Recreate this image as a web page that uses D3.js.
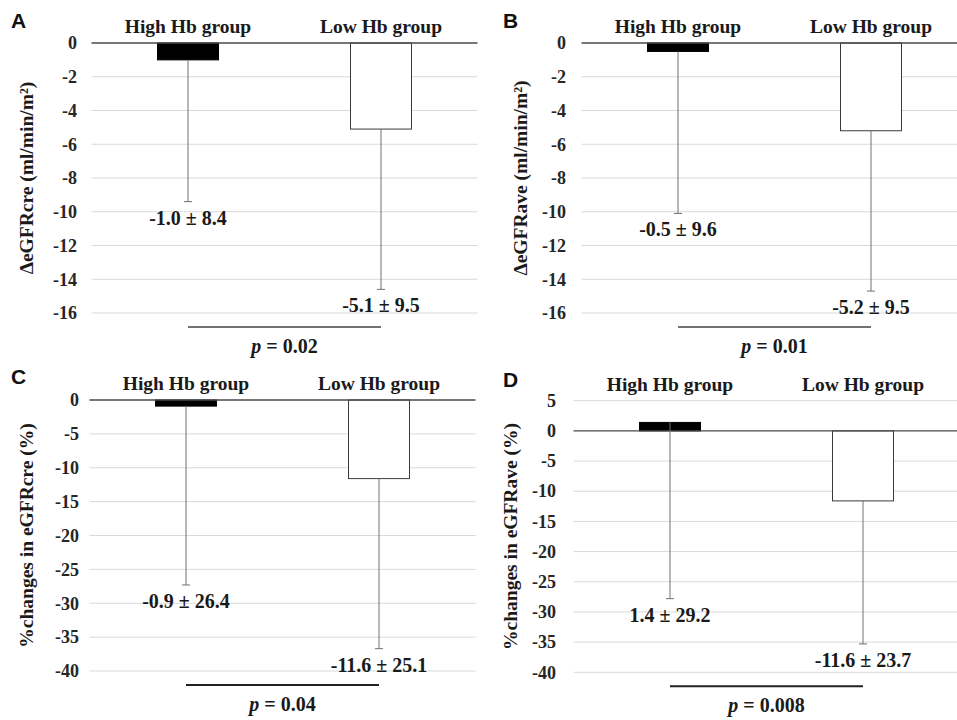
<!DOCTYPE html>
<html>
<head>
<meta charset="utf-8">
<script src="https://cdn.jsdelivr.net/npm/d3@7"></script>
<style>
  html, body { margin: 0; padding: 0; background: #fff; }
  svg { display: block; }
  .serif { font-family: "Liberation Serif", "Times New Roman", serif; font-weight: bold; fill: #1a1a1a; }
  .letter { font-family: "Liberation Sans", Arial, sans-serif; font-weight: bold; fill: #111; }
</style>
</head>
<body>
<svg id="chart" width="957" height="720"></svg>
<script>
// ---------- data ----------
const categories = ["High Hb group", "Low Hb group"];
const panelLetters = ["A", "B", "C", "D"];
const yTitles = ["ΔeGFRcre (ml/min/m²)", "ΔeGFRave (ml/min/m²)", "%changes in eGFRcre (%)", "%changes in eGFRave (%)"];
const meansA = [-1.0, -5.1];
const sdA = [8.4, 9.5];
const meansB = [-0.5, -5.2];
const sdB = [9.6, 9.5];
const meansC = [-0.9, -11.6];
const sdC = [26.4, 25.1];
const meansD = [1.4, -11.6];
const sdD = [29.2, 23.7];
const pValues = ["0.02", "0.01", "0.04", "0.008"];
const ticksAB = [0, -2, -4, -6, -8, -10, -12, -14, -16];
const ticksC = [0, -5, -10, -15, -20, -25, -30, -35, -40];
const ticksD = [5, 0, -5, -10, -15, -20, -25, -30, -35, -40];

// ---------- layout ----------
const panels = [
  { means: meansA, sds: sdA, ticks: ticksAB, domain: [-16, 0], x0: 91.5, x1: 477.5, yTop: 43, yBot: 313, tickX: 77, titleX: 33, letterX: 11, letterY: 28, pw: 1.3, pc: "#444" },
  { means: meansB, sds: sdB, ticks: ticksAB, domain: [-16, 0], x0: 581.5, x1: 967.5, yTop: 43, yBot: 313, tickX: 566, titleX: 527, letterX: 503, letterY: 28, pw: 1.3, pc: "#444" },
  { means: meansC, sds: sdC, ticks: ticksC, domain: [-40, 0], x0: 89.5, x1: 475.5, yTop: 400, yBot: 671, tickX: 79, titleX: 33, letterX: 11, letterY: 384, pw: 2, pc: "#222" },
  { means: meansD, sds: sdD, ticks: ticksD, domain: [-40, 5], x0: 573.5, x1: 959.5, yTop: 400.7, yBot: 672.3, tickX: 556, titleX: 517, letterX: 503, letterY: 387, pw: 2, pc: "#222" }
];

const serifFamily = '"Liberation Serif", "Times New Roman", serif';
const svg = d3.select("#chart");

panels.forEach((p, i) => {
  const g = svg.append("g");
  const x = d3.scaleBand().domain(categories).range([p.x0, p.x1]).padding(0);
  const y = d3.scaleLinear().domain(p.domain).range([p.yBot, p.yTop]);
  const barW = x.bandwidth() * 0.316;
  const cx = c => x(c) + x.bandwidth() / 2;

  // gridlines
  g.selectAll(".grid").data(p.ticks.filter(t => t !== 0)).join("line")
    .attr("x1", p.x0).attr("x2", p.x1)
    .attr("y1", d => y(d)).attr("y2", d => y(d))
    .attr("stroke", "#d9d9d9").attr("stroke-width", 1);

  // tick labels via axis
  const axis = d3.axisLeft(y).tickValues(p.ticks).tickSize(0).tickPadding(p.x0 - p.tickX)
    .tickFormat(d => String(d));
  const ax = g.append("g").attr("transform", `translate(${p.x0},0)`).call(axis);
  ax.attr("font-family", serifFamily).attr("font-size", 18);
  ax.select(".domain").remove();
  ax.selectAll("text")
    .style("font-family", serifFamily).style("font-weight", "bold").style("font-size", "18px")
    .attr("fill", "#262626");

  // bars
  const data = categories.map((c, k) => ({ c, m: p.means[k], sd: p.sds[k], k }));
  g.selectAll(".bar").data(data).join("rect")
    .attr("x", d => cx(d.c) - barW / 2)
    .attr("width", barW)
    .attr("y", d => Math.min(y(d.m), y(0)))
    .attr("height", d => Math.abs(y(d.m) - y(0)))
    .attr("fill", d => d.k === 0 ? "#000" : "#fff")
    .attr("stroke", d => d.k === 0 ? "#000" : "#3a3a3a")
    .attr("stroke-width", 1);

  // zero line
  g.append("line").attr("x1", p.x0).attr("x2", p.x1)
    .attr("y1", y(0)).attr("y2", y(0))
    .attr("stroke", "#4a4a4a").attr("stroke-width", 1.3);

  // error bars (downward only)
  g.selectAll(".err").data(data).join("line")
    .attr("x1", d => cx(d.c)).attr("x2", d => cx(d.c))
    .attr("y1", d => y(d.m)).attr("y2", d => y(d.m - d.sd))
    .attr("stroke", "#707070").attr("stroke-width", 1);
  g.selectAll(".cap").data(data).join("line")
    .attr("x1", d => cx(d.c) - 4).attr("x2", d => cx(d.c) + 4)
    .attr("y1", d => y(d.m - d.sd)).attr("y2", d => y(d.m - d.sd))
    .attr("stroke", "#707070").attr("stroke-width", 1);

  // value labels
  g.selectAll(".vlab").data(data).join("text")
    .attr("class", "serif")
    .attr("x", d => cx(d.c))
    .attr("y", d => y(d.m - d.sd) + 23)
    .attr("text-anchor", "middle").attr("font-size", 20)
    .text(d => `${d.m.toFixed(1)} ± ${d.sd.toFixed(1)}`);

  // category labels
  g.selectAll(".cat").data(categories).join("text")
    .attr("class", "serif")
    .attr("x", d => cx(d))
    .attr("y", p.yTop - 10)
    .attr("text-anchor", "middle").attr("font-size", 19.5)
    .text(d => d);

  // p-value bracket
  const yb = y(p.domain[0]) + 14;
  g.append("line")
    .attr("x1", cx(categories[0])).attr("x2", cx(categories[1]))
    .attr("y1", yb).attr("y2", yb)
    .attr("stroke", p.pc).attr("stroke-width", p.pw);
  const pt = g.append("text").attr("class", "serif")
    .attr("x", (cx(categories[0]) + cx(categories[1])) / 2)
    .attr("y", yb + 26)
    .attr("text-anchor", "middle").attr("font-size", 20);
  pt.append("tspan").attr("font-style", "italic").text("p");
  pt.append("tspan").text(" = " + pValues[i]);

  // y axis title
  g.append("text").attr("class", "serif")
    .attr("transform", `translate(${p.titleX},${(p.yTop + p.yBot) / 2}) rotate(-90)`)
    .attr("text-anchor", "middle").attr("font-size", 19.5)
    .text(yTitles[i]);

  // panel letter
  g.append("text").attr("class", "letter")
    .attr("x", p.letterX).attr("y", p.letterY)
    .attr("font-size", 21)
    .text(panelLetters[i]);
});
</script>
</body>
</html>
